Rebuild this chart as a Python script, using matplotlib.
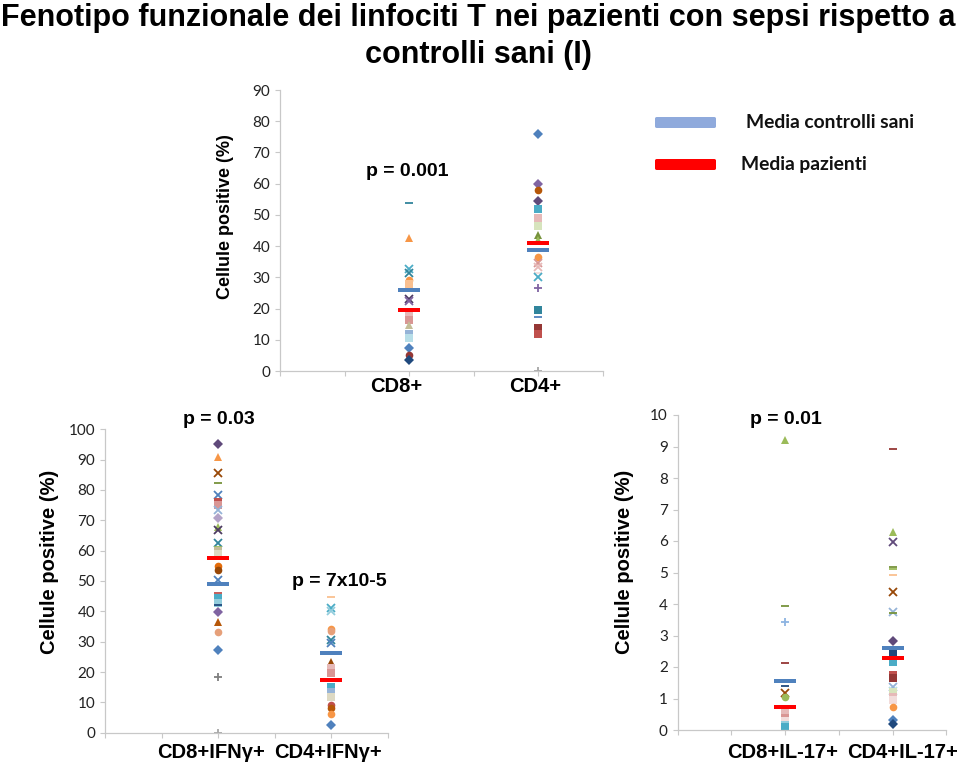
import matplotlib.pyplot as plt
from matplotlib.path import Path
from matplotlib.patches import FancyBboxPatch

W, H = 960, 768

# ---- data ----
# top panel: CD8+ / CD4+ (% positive cells), patients
cd8 = [53.9, 42.5, 32.7, 31.5, 29.1, 28.0, 23.0, 22.4, 18.0, 16.3, 14.7, 12.0, 10.5, 7.3, 5.0, 3.5]
cd4 = [75.8, 59.9, 58.0, 54.4, 51.9, 49.0, 46.4, 43.5, 42.0, 36.6, 34.7, 33.4, 31.5, 30.0, 26.7,
       19.5, 17.3, 13.7, 11.9, 0.0]
top_ctrl_mean = [25.9, 38.8]
top_pat_mean = [19.5, 40.9]

# bottom left: IFN-gamma producing cells
cd8_ifng = [95.1, 90.8, 85.5, 82.2, 78.3, 76.1, 75.0, 73.4, 70.7, 67.9, 66.8, 62.4, 61.3, 60.0, 58.9,
            54.9, 53.6, 50.3, 45.9, 44.3, 42.9, 42.1, 39.9, 36.6, 33.3, 27.3, 18.5, 0.0]
cd4_ifng = [44.6, 41.0, 40.2, 34.1, 33.4, 30.5, 29.5, 23.4, 21.2, 19.6, 15.2, 13.5, 11.9, 9.1, 8.0, 6.2, 2.5]
ifng_ctrl_mean = [48.9, 26.2]
ifng_pat_mean = [57.5, 17.4]

# bottom right: IL-17 producing cells
cd8_il17 = [9.2, 3.94, 3.42, 2.12, 1.41, 1.18, 1.06, 0.53, 0.37, 0.30, 0.16, 0.08]
cd4_il17 = [8.91, 6.3, 5.98, 5.19, 5.1, 4.92, 4.39, 3.76, 3.7, 2.84, 2.49, 2.17, 1.75, 1.64, 1.37,
            1.25, 1.22, 1.06, 0.95, 0.74, 0.32, 0.2]
il17_ctrl_mean = [1.56, 2.61]
il17_pat_mean = [0.74, 2.30]

# ---- marker styles (excel-like, one per point) ----
cd8_mk = ['_', '^', 'x', 'x', 'o', 's', 'x', 'x', 's', 's', '^', 's', 's', 'D', 'o', 'D']
cd8_col = ['#31859C', '#F79646', '#4BACC6', '#31859C', '#F79646', '#FAC090', '#4D3B62', '#8064A2',
           '#E6B9B8', '#D99694', '#C4BD97', '#95B3D7', '#B7DEE8', '#4F81BD', '#953735', '#1F497D']
cd4_mk = ['D', 'D', 'o', 'D', 's', 's', 's', '^', '^', 'o', 'x', 'x', '_', 'x', '+', 's', '_', 's', 's', '+']
cd4_col = ['#4F81BD', '#8064A2', '#B65708', '#5F497A', '#4BACC6', '#E6B9B8', '#D7E4BD', '#77933C',
           '#9BBB59', '#F79646', '#D99694', '#E6B9B8', '#F2DCDB', '#4BACC6', '#8064A2', '#31859C',
           '#4F81BD', '#953735', '#C0504D', '#A6A6A6']
cd8_ifng_mk = ['D', '^', 'x', '_', 'x', 's', 's', 'x', 'D', '^', 'x', 'x', '_', 's', 's',
               'o', 'o', 'x', '_', 's', 's', '_', 'D', '^', 'o', 'D', '+', '+']
cd8_ifng_col = ['#5F497A', '#F79646', '#984807', '#77933C', '#4F81BD', '#C0504D', '#D99694', '#95B3D7',
                '#B3A2C7', '#9BBB59', '#4D3B62', '#31859C', '#9BBB59', '#C4BD97', '#DDD9C3',
                '#E46C0A', '#984807', '#4F81BD', '#C0504D', '#4BACC6', '#93CDDD', '#1F497D',
                '#8064A2', '#B65708', '#E6A07A', '#4F81BD', '#7F7F7F', '#A6A6A6']
cd4_ifng_mk = ['_', 'x', 'x', 'o', 'o', 'x', 'x', '^', 's', 's', 's', 's', 's', 'o', 'o', 'o', 'D']
cd4_ifng_col = ['#FAC090', '#4BACC6', '#93CDDD', '#F79646', '#E6A07A', '#31859C', '#4F81BD', '#984807',
                '#E6B9B8', '#D99694', '#4BACC6', '#95B3D7', '#DDD9C3', '#C0504D', '#B65708', '#F79646',
                '#4F81BD']
cd8_il17_mk = ['^', '_', '+', '_', '_', 'x', 'o', 's', 's', 's', 's', 's']
cd8_il17_col = ['#9BBB59', '#77933C', '#8DB4E2', '#953735', '#1F497D', '#984807', '#9BBB59',
                '#E6B9B8', '#D99694', '#F2DCDB', '#93CDDD', '#4BACC6']
cd4_il17_mk = ['_', '^', 'x', '_', '_', '_', 'x', 'x', '_', 'D', 's', 's', 's', 's', 'x',
               'x', 's', 's', 's', 'o', 'D', 'D']
cd4_il17_col = ['#953735', '#9BBB59', '#604A7B', '#77933C', '#9BBB59', '#FAC090', '#984807', '#95B3D7',
                '#77933C', '#5F497A', '#1F497D', '#4BACC6', '#C0504D', '#953735', '#95B3D7',
                '#B7DEE8', '#D7E4BD', '#E6B9B8', '#F2DCDB', '#F79646', '#4F81BD', '#1F497D']

CTRL = '#4F81BD'
PAT = '#FF0000'
BAR = Path([(-1, -0.18), (1, -0.18), (1, 0.18), (-1, 0.18), (-1, -0.18)],
           [Path.MOVETO, Path.LINETO, Path.LINETO, Path.LINETO, Path.CLOSEPOLY])

BOLD = ['Liberation Sans', 'DejaVu Sans']
TICK = ['Lato', 'DejaVu Sans']

fig = plt.figure(figsize=(9.6, 7.68), dpi=100)


def px(x, y):
    return x / W, 1 - y / H


def panel(rect, ymax, ystep, cols, ctrl, pat):
    x0, y0, x1, y1 = rect
    ax = fig.add_axes([x0 / W, 1 - y1 / H, (x1 - x0) / W, (y1 - y0) / H])
    for xpos, (vals, mks, cls) in zip([2, 4], cols):
        for v, m, c in zip(vals, mks, cls):
            if m in ('x', '+', '_'):
                ax.plot(xpos, v, marker=m, color=c, ms=6, mew=1.3, ls='none', zorder=2)
            else:
                ax.plot(xpos, v, marker=m, color=c, ms=5.5, mew=0, ls='none', zorder=2)
    ax.plot([2, 4], ctrl, marker=BAR, color=CTRL, ms=15.5, mew=0, ls='none', zorder=3)
    ax.plot([2, 4], pat, marker=BAR, color=PAT, ms=15.5, mew=0, ls='none', zorder=4)
    ax.set_xlim(0, 5)
    ax.set_ylim(0, ymax)
    ax.set_xticks(range(6))
    ax.set_xticklabels([])
    ax.set_yticks([i * ystep for i in range(int(round(ymax / ystep)) + 1)])
    for s in ('top', 'right'):
        ax.spines[s].set_visible(False)
    for s in ('left', 'bottom'):
        ax.spines[s].set_color('#C8C8C8')
        ax.spines[s].set_linewidth(0.9)
    ax.tick_params(colors='#C8C8C8', labelcolor='#222222', length=3.5, width=0.8, direction='out')
    for lab in ax.get_yticklabels():
        lab.set_family(TICK)
        lab.set_fontsize(11)
    ax.patch.set_alpha(0)
    return ax


panel((280, 90, 603, 371), 90, 10, [(cd8, cd8_mk, cd8_col), (cd4, cd4_mk, cd4_col)],
      top_ctrl_mean, top_pat_mean)
panel((105, 429.3, 388, 732.7), 100, 10,
      [(cd8_ifng, cd8_ifng_mk, cd8_ifng_col), (cd4_ifng, cd4_ifng_mk, cd4_ifng_col)],
      ifng_ctrl_mean, ifng_pat_mean)
panel((677.5, 415, 946.5, 730), 10, 1,
      [(cd8_il17, cd8_il17_mk, cd8_il17_col), (cd4_il17, cd4_il17_mk, cd4_il17_col)],
      il17_ctrl_mean, il17_pat_mean)

# title
fig.text(*px(478, 3), 'Fenotipo funzionale dei linfociti T nei pazienti con sepsi rispetto a\ncontrolli sani (I)',
         ha='center', va='top', fontsize=22, fontweight='bold', family=BOLD, linespacing=1.3)

# y labels
fig.text(*px(226, 217), 'Cellule positive (%)', rotation=90, ha='center', va='center',
         fontsize=13, fontweight='bold', family=BOLD)
fig.text(*px(50, 562), 'Cellule positive (%)', rotation=90, ha='center', va='center',
         fontsize=14.5, fontweight='bold', family=BOLD)
fig.text(*px(625, 562), 'Cellule positive (%)', rotation=90, ha='center', va='center',
         fontsize=14.5, fontweight='bold', family=BOLD)

# category labels
for x, y, s in [(396, 386, 'CD8+'), (535, 386, 'CD4+'),
                (211, 752, 'CD8+IFNγ+'), (328, 752, 'CD4+IFNγ+'),
                (783, 752, 'CD8+IL-17+'), (903, 752, 'CD4+IL-17+')]:
    fig.text(*px(x, y), s, ha='center', va='center', fontsize=14.5, fontweight='bold', family=BOLD)

# p values
for x, y, s in [(407, 172, 'p = 0.001'), (219, 420, 'p = 0.03'),
                (339, 581, 'p = 7x10-5'), (786, 420, 'p = 0.01')]:
    fig.text(*px(x, y), s, ha='center', va='center', fontsize=14, fontweight='bold', family=BOLD)

# legend
for y, c, s, tx in [(122.5, '#8FAADC', 'Media controlli sani', 746), (164.5, PAT, 'Media pazienti', 741)]:
    bx, by = px(655, y + 5.5)
    fig.add_artist(FancyBboxPatch((bx, by), 61 / W, 11 / H, boxstyle='round,pad=0,rounding_size=0.002',
                                  transform=fig.transFigure, color=c, lw=0))
    fig.text(*px(tx, y), s, ha='left', va='center', fontsize=13.9, fontweight='bold',
             family=TICK, color='#111111')

fig.savefig('out.png', dpi=100)
